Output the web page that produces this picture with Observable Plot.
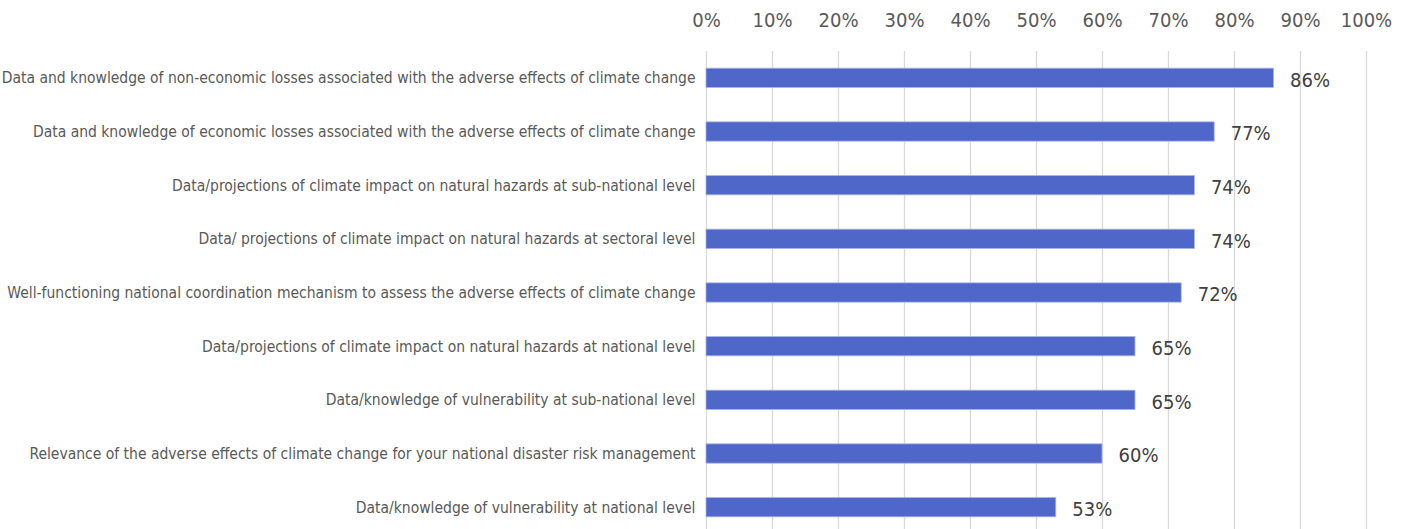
<!DOCTYPE html>
<html>
<head>
<meta charset="utf-8">
<script src="https://cdn.jsdelivr.net/npm/d3@7"></script>
<script src="https://cdn.jsdelivr.net/npm/@observablehq/plot@0.6"></script>
<style>
  html, body { margin: 0; padding: 0; background: #ffffff; }
  #chart svg { display: block; }
</style>
</head>
<body>
<div id="chart"></div>
<script>
// Survey items (top to bottom) and share of respondents
const categories = [
  "Data and knowledge of non-economic losses associated with the adverse effects of climate change",
  "Data and knowledge of economic losses associated with the adverse effects of climate change",
  "Data/projections of climate impact on natural hazards at sub-national level",
  "Data/ projections of climate impact on natural hazards at sectoral level",
  "Well-functioning national coordination mechanism to assess the adverse effects of climate change",
  "Data/projections of climate impact on natural hazards at national level",
  "Data/knowledge of vulnerability at sub-national level",
  "Relevance of the adverse effects of climate change for your national disaster risk management",
  "Data/knowledge of vulnerability at national level"
];
const values = [86, 77, 74, 74, 72, 65, 65, 60, 53];
const tickValues = [0, 10, 20, 30, 40, 50, 60, 70, 80, 90, 100];
const tickLabels = ["0%", "10%", "20%", "30%", "40%", "50%", "60%", "70%", "80%", "90%", "100%"];

const data = categories.map((c, i) => ({category: c, value: values[i]}));

const chart = Plot.plot({
  width: 1410,
  height: 529,
  marginLeft: 706,
  marginRight: 44,
  marginTop: 51,
  marginBottom: 0,
  style: {fontFamily: "'DejaVu Sans Condensed', 'DejaVu Sans', sans-serif", background: "#ffffff"},
  x: {domain: [0, 100]},
  y: {domain: categories, range: [51, 534], paddingInner: 0.64, paddingOuter: 0.32, round: false},
  marks: [
    Plot.ruleX(tickValues, {stroke: "#d9d9d9", strokeWidth: 1.3}),
    Plot.axisX(tickValues, {
      anchor: "top",
      tickSize: 0,
      tickPadding: 25,
      label: null,
      tickFormat: (d) => tickLabels[tickValues.indexOf(d)],
      fontSize: 20,
      fill: "#595959"
    }),
    Plot.barX(data, {x: "value", y: "category", fill: "#4e67c8", stroke: "#a9b6e6", strokeWidth: 0.8}),
    Plot.text(data, {
      x: "value", y: "category",
      text: (d) => d.value + "%",
      textAnchor: "start",
      dx: 16,
      dy: 2,
      fontSize: 20,
      fill: "#404040"
    }),
    Plot.axisY({
      tickSize: 0,
      tickPadding: 11,
      label: null,
      fontSize: 15.5,
      fill: "#595959"
    })
  ]
});
document.getElementById("chart").append(chart);
</script>
</body>
</html>
